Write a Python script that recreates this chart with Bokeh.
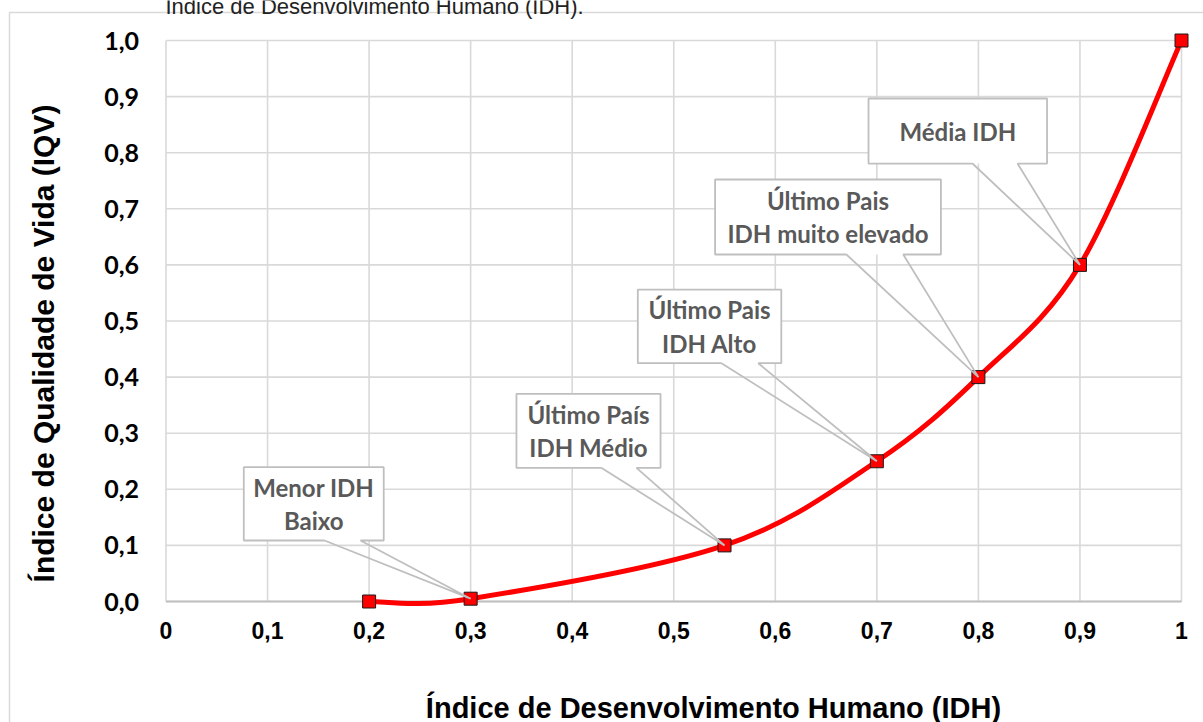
import math
from bokeh.plotting import figure
from bokeh.models import Range1d, FixedTicker
from bokeh.embed import file_html
from bokeh.resources import INLINE
from bokeh.core.properties import value

# ---------------- data ----------------
idh = [0.2, 0.3, 0.55, 0.7, 0.8, 0.9, 1.0]
iqv = [0.0, 0.005, 0.1, 0.25, 0.4, 0.6, 1.0]

x_ticks = [0, 0.1, 0.2, 0.3, 0.4, 0.5, 0.6, 0.7, 0.8, 0.9, 1]
x_tick_labels = ["0", "0,1", "0,2", "0,3", "0,4", "0,5", "0,6", "0,7", "0,8", "0,9", "1"]
y_ticks = [0.0, 0.1, 0.2, 0.3, 0.4, 0.5, 0.6, 0.7, 0.8, 0.9, 1.0]
y_tick_labels = ["0,0", "0,1", "0,2", "0,3", "0,4", "0,5", "0,6", "0,7", "0,8", "0,9", "1,0"]

callout_texts = ["Menor IDH\nBaixo", "Último País\nIDH Médio", "Último Pais\nIDH Alto",
                 "Último Pais\nIDH muito elevado", "Média IDH"]
callout_point_index = [1, 2, 3, 4, 5]

x_title = "Índice de Desenvolvimento Humano (IDH)"
y_title = "Índice de Qualidade de Vida (IQV)"
top_text = "Índice de Desenvolvimento Humano (IDH)."

# ---------------- layout ----------------
W, H = 1203, 722
# pixel placement of the plot area: data 0..1 -> px
PX0, PX1 = 165.5, 1181.0
PY0, PY1 = 601.0, 40.0
sx = PX1 - PX0
sy = PY0 - PY1

def dx(px):
    return (px - PX0) / sx

def dy(py):
    return (PY0 - py) / sy

# callout boxes (left, right, top, bottom, pointer base x1, pointer base x2) in data units
callout_boxes = [
    (0.0766, 0.2144, 0.2394, 0.1087, 0.1561, 0.1915),
    (0.3451, 0.4870, 0.3702, 0.2383, 0.4286, 0.4633),
    (0.4646, 0.6059, 0.5561, 0.4248, 0.5470, 0.5832),
    (0.5407, 0.7631, 0.7522, 0.6185, 0.6701, 0.7260),
    (0.6918, 0.8676, 0.8966, 0.7807, 0.7942, 0.8385),
]

p = figure(width=W, height=H, output_backend="svg", toolbar_location=None, title=None,
           x_range=Range1d(dx(0), dx(W)), y_range=Range1d(dy(H), dy(0)),
           min_border_left=0, min_border_right=0, min_border_top=0, min_border_bottom=0)
p.outline_line_color = None
p.background_fill_color = "white"
p.border_fill_color = "white"
p.xgrid.visible = False
p.ygrid.visible = False

# axes fixed at the origin (drawn inside the canvas)
for ax, ticks, labels in ((p.xaxis[0], x_ticks, x_tick_labels), (p.yaxis[0], y_ticks, y_tick_labels)):
    ax.ticker = FixedTicker(ticks=ticks)
    ax.major_label_overrides = dict(zip(ticks, labels))
    ax.fixed_location = 0
    ax.axis_line_color = None
    ax.major_tick_line_color = None
    ax.minor_tick_line_color = None
    ax.major_tick_out = 0
    ax.major_tick_in = 0
    ax.major_label_text_font_style = "bold"
    ax.major_label_text_color = "black"

p.xaxis.major_label_text_font = "Liberation Sans"
p.xaxis.major_label_text_font_size = "23px"
p.xaxis.major_label_standoff = 20
p.yaxis.major_label_text_font = "Lato"
p.yaxis.major_label_text_font_size = "25px"
p.yaxis.major_label_standoff = 27

# outer chart-area border (top and left edges visible)
p.line(x=[dx(9), dx(9), dx(W + 20)], y=[dy(H + 20), dy(12), dy(12)],
       line_color="#d9d9d9", line_width=1.5)

# grid from ticks
y0, y1 = y_ticks[0], y_ticks[-1]
x0, x1 = x_ticks[0], x_ticks[-1]
p.segment(x0=x_ticks, y0=[y0] * len(x_ticks), x1=x_ticks, y1=[y1] * len(x_ticks),
          line_color="#d9d9d9", line_width=1.6)
p.segment(x0=[x0] * len(y_ticks), y0=y_ticks, x1=[x1] * len(y_ticks), y1=y_ticks,
          line_color="#d9d9d9", line_width=1.6)
p.segment(x0=[x0], y0=[y0], x1=[x1], y1=[y0], line_color="#bfbfbf", line_width=1.8)

# smoothed curve (Catmull-Rom style bezier, like Excel's smoothed line)
n = len(idh)
bx0, by0, bx1, by1, cx0, cy0, cx1, cy1 = [], [], [], [], [], [], [], []
for i in range(n - 1):
    a = max(i - 1, 0)
    d = min(i + 2, n - 1)
    bx0.append(idh[i]); by0.append(iqv[i])
    bx1.append(idh[i + 1]); by1.append(iqv[i + 1])
    cx0.append(idh[i] + (idh[i + 1] - idh[a]) / 6.0)
    cy0.append(iqv[i] + (iqv[i + 1] - iqv[a]) / 6.0)
    cx1.append(idh[i + 1] - (idh[d] - idh[i]) / 6.0)
    cy1.append(iqv[i + 1] - (iqv[d] - iqv[i]) / 6.0)
p.bezier(x0=bx0, y0=by0, x1=bx1, y1=by1, cx0=cx0, cy0=cy0, cx1=cx1, cy1=cy1,
         line_color="#ff0000", line_width=5, line_cap="round")

p.scatter(idh, iqv, marker="square", size=13, fill_color="#ff0000", line_color="#1a1a1a", line_width=1)

# callouts
qx, qy, tx, ty = [], [], [], []
L_, R_, T_, B_ = [], [], [], []
for (l, r, t, b, b1, b2), idx in zip(callout_boxes, callout_point_index):
    L_.append(l); R_.append(r); T_.append(t); B_.append(b)
    px, py = idh[idx], iqv[idx]
    qx.append([b1, l, l, r, r, b2, px, b1])
    qy.append([b, b, t, t, b, b, py, b])
    tx.append((l + r) / 2)
    ty.append((t + b) / 2)
p.quad(left=L_, right=R_, top=T_, bottom=B_, fill_color="white", line_color=None)
p.multi_line(xs=qx, ys=qy, line_color="#bfbfbf", line_width=1.8)
p.text(x=tx, y=ty, text=callout_texts, text_font=value("Lato"), text_font_style="bold",
       text_font_size=value("24px"), text_color="#595959", text_align="center",
       text_baseline="middle", text_line_height=1.15)

# titles
p.text(x=[dx(713)], y=[dy(707)], text=[x_title], text_align="center", text_baseline="alphabetic",
       text_font=value("Liberation Sans"), text_font_style="bold", text_font_size=value("29px"),
       text_color="black")
p.text(x=[dx(43)], y=[dy(343)], text=[y_title], angle=math.pi / 2, text_align="center",
       text_baseline="middle", text_font=value("Liberation Sans"), text_font_style="bold",
       text_font_size=value("30px"), text_color="black")
p.text(x=[dx(165)], y=[dy(6)], text=[top_text], text_align="left", text_baseline="alphabetic",
       text_font=value("Liberation Sans"), text_font_size=value("22px"), text_color="#222222")

open("out.html", "w").write(file_html(p, INLINE))
